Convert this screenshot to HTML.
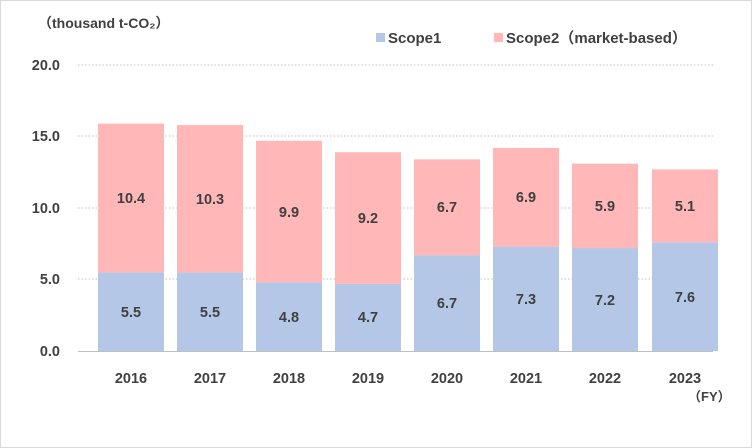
<!DOCTYPE html>
<html><head><meta charset="utf-8"><style>
html,body{margin:0;padding:0;background:#fff}
svg{display:block}
text{font-family:"Liberation Sans","Noto Sans CJK JP",sans-serif;fill:#404040;font-weight:bold}
</style></head><body>
<svg width="752" height="448" viewBox="0 0 752 448">
<rect x="0.5" y="0.5" width="751" height="447" fill="#fff" stroke="#d9d9d9"/>
<text x="38" y="28" font-size="14">（thousand t-CO₂）</text>
<rect x="376" y="33" width="9" height="9" fill="#b4c7e7"/>
<text x="388" y="43" font-size="15">Scope1</text>
<rect x="494" y="33" width="9" height="9" fill="#ffb7b7"/>
<text x="506" y="43" font-size="15">Scope2（market-based）</text>
<g stroke="#bfbfbf" stroke-dasharray="1.5,2" stroke-width="1">
<line x1="78" y1="65" x2="713" y2="65"/>
<line x1="78" y1="136" x2="713" y2="136"/>
<line x1="78" y1="208" x2="713" y2="208"/>
<line x1="78" y1="279" x2="713" y2="279"/>
</g>
<line x1="78" y1="351.5" x2="713" y2="351.5" stroke="#bfbfbf"/>
<g font-size="14.5" text-anchor="end">
<text x="60" y="70">20.0</text><text x="60" y="141">15.0</text><text x="60" y="213">10.0</text><text x="60" y="284">5.0</text><text x="60" y="356">0.0</text>
</g>
<g fill="#b4c7e7">
<rect x="98" y="272.35" width="66" height="78.65"/>
<rect x="177" y="272.35" width="66" height="78.65"/>
<rect x="256" y="282.36" width="66" height="68.64"/>
<rect x="335" y="283.79" width="66" height="67.21"/>
<rect x="414" y="255.19" width="66" height="95.81"/>
<rect x="493" y="246.61" width="66" height="104.39"/>
<rect x="572" y="248.04" width="66" height="102.96"/>
<rect x="652" y="242.32" width="66" height="108.68"/>
</g>
<g fill="#ffb7b7">
<rect x="98" y="123.63" width="66" height="148.72"/>
<rect x="177" y="125.06" width="66" height="147.29"/>
<rect x="256" y="140.79" width="66" height="141.57"/>
<rect x="335" y="152.23" width="66" height="131.56"/>
<rect x="414" y="159.38" width="66" height="95.81"/>
<rect x="493" y="147.94" width="66" height="98.67"/>
<rect x="572" y="163.67" width="66" height="84.37"/>
<rect x="652" y="169.39" width="66" height="72.93"/>
</g>
<g font-size="14.5" text-anchor="middle">
<text x="131" y="317">5.5</text><text x="131" y="203">10.4</text><text x="131" y="383">2016</text>
<text x="210" y="317">5.5</text><text x="210" y="204">10.3</text><text x="210" y="383">2017</text>
<text x="289" y="322">4.8</text><text x="289" y="217">9.9</text><text x="289" y="383">2018</text>
<text x="368" y="322">4.7</text><text x="368" y="223">9.2</text><text x="368" y="383">2019</text>
<text x="447" y="308">6.7</text><text x="447" y="212">6.7</text><text x="447" y="383">2020</text>
<text x="526" y="304">7.3</text><text x="526" y="202">6.9</text><text x="526" y="383">2021</text>
<text x="605" y="305">7.2</text><text x="605" y="211">5.9</text><text x="605" y="383">2022</text>
<text x="685" y="302">7.6</text><text x="685" y="211">5.1</text><text x="685" y="383">2023</text>
</g>
<text x="688" y="401" font-size="13" font-weight="normal">（FY）</text>
</svg>
</body></html>
